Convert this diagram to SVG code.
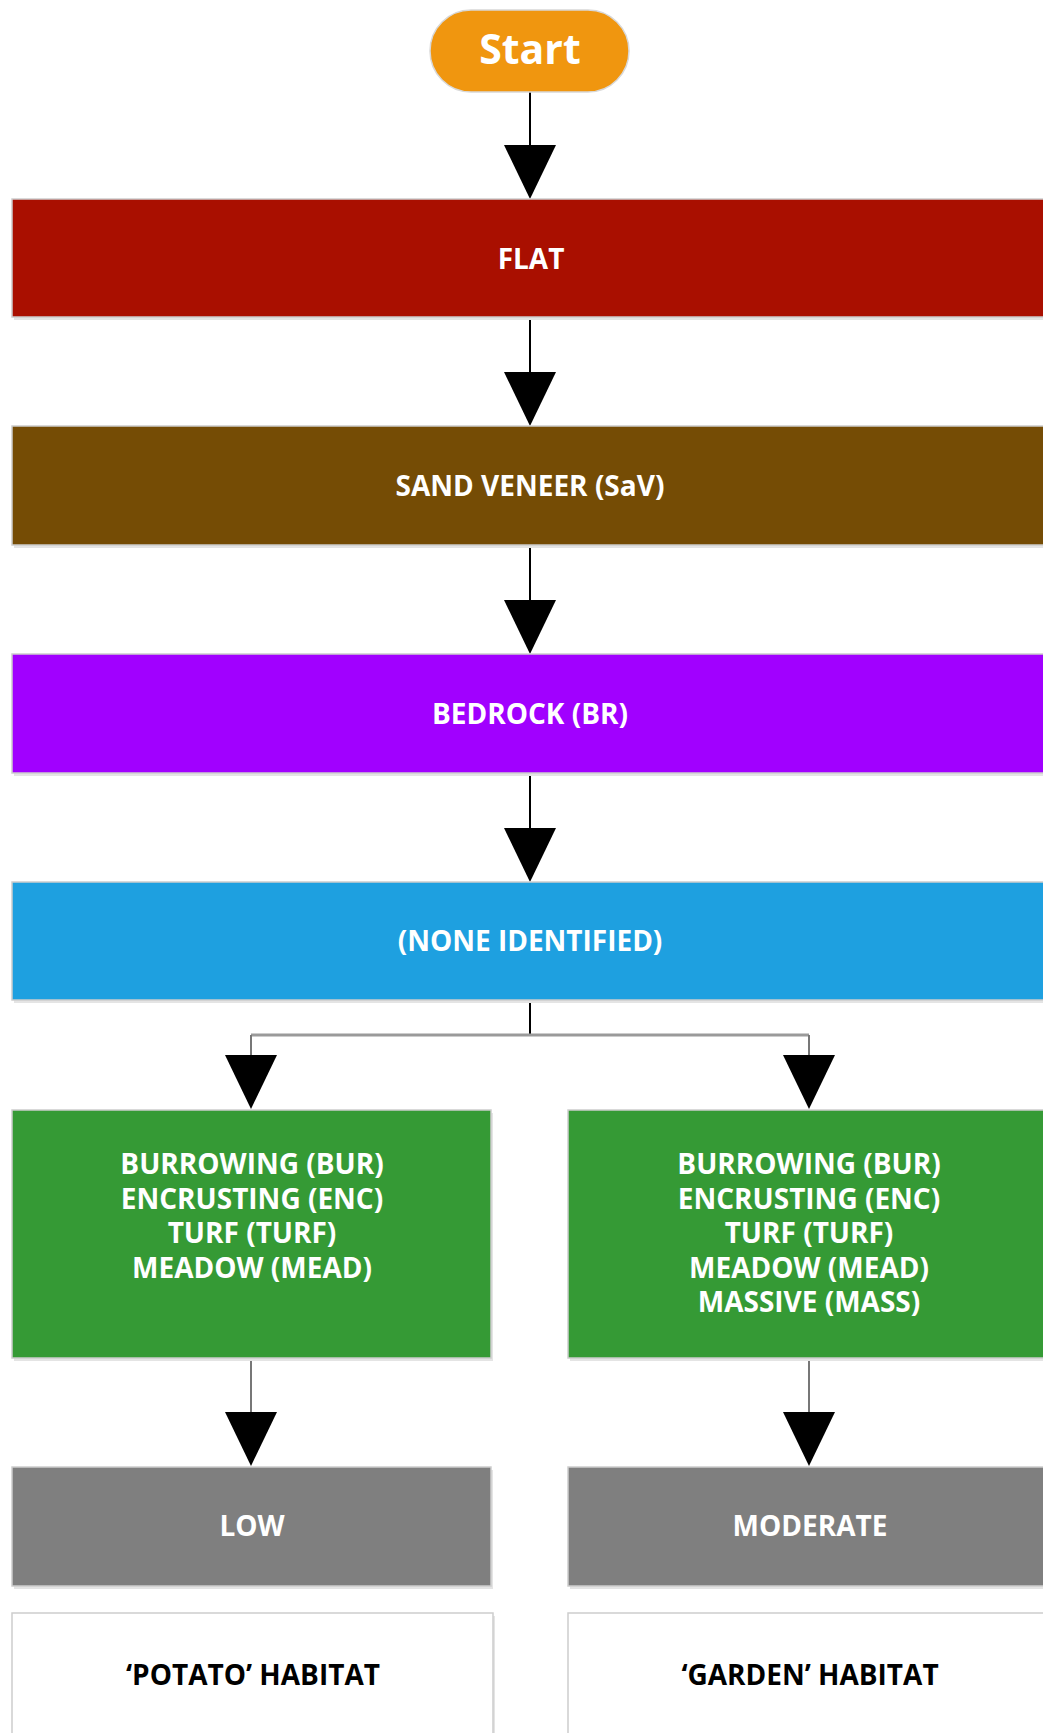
<svg xmlns="http://www.w3.org/2000/svg" width="1043" height="1733" viewBox="0 0 1043 1733">
<style>
.box{stroke:#cdcdcd;stroke-width:1.5}
.sh{fill:#e4e4e4}
.t{font-family:"Open Sans","DejaVu Sans",sans-serif;font-weight:700;font-size:28px;fill:#ffffff;text-anchor:middle}
.tb{fill:#000000}
.ln{fill:none;stroke:#000;stroke-width:2}
.lg{fill:none;stroke:#777;stroke-width:2}
</style>
<defs>
<polygon id="ah" points="-26,0 26,0 0,54" fill="#000"/>
</defs>
<rect width="1043" height="1733" fill="#ffffff"/>

<g id="connectors">
<line class="ln" x1="530" y1="92" x2="530" y2="146"/>
<use href="#ah" x="530" y="145"/>
<line class="ln" x1="530" y1="318" x2="530" y2="373"/>
<use href="#ah" x="530" y="372"/>
<line class="ln" x1="530" y1="546" x2="530" y2="601"/>
<use href="#ah" x="530" y="600"/>
<line class="ln" x1="530" y1="774" x2="530" y2="829"/>
<use href="#ah" x="530" y="828"/>
<line class="ln" x1="530" y1="1001" x2="530" y2="1035"/>
<line x1="251" y1="1035" x2="809" y2="1035" stroke="#9a9a9a" stroke-width="3"/>
<line class="lg" x1="251" y1="1035" x2="251" y2="1056"/>
<line class="lg" x1="809" y1="1035" x2="809" y2="1056"/>
<use href="#ah" x="251" y="1055"/>
<use href="#ah" x="809" y="1055"/>
<line class="lg" x1="251" y1="1359" x2="251" y2="1413"/>
<line class="lg" x1="809" y1="1359" x2="809" y2="1413"/>
<use href="#ah" x="251" y="1412"/>
<use href="#ah" x="809" y="1412"/>
</g>

<g id="start">
<rect x="430" y="10" width="199" height="82" rx="41" fill="#f0960f" stroke="#d8d8d8" stroke-width="1.5"/>
<text class="t" x="530" y="64" style="font-size:41px">Start</text>
</g>

<g id="flat">
<rect class="sh" x="14" y="202" width="1040" height="118"/>
<rect class="box" x="12" y="199" width="1040" height="118" fill="#a90f00"/>
<text class="t" x="531" y="269">FLAT</text>
</g>

<g id="sand-veneer">
<rect class="sh" x="14" y="429" width="1040" height="119"/>
<rect class="box" x="12" y="426" width="1040" height="119" fill="#754c05"/>
<text class="t" x="530" y="496">SAND VENEER (SaV)</text>
</g>

<g id="bedrock">
<rect class="sh" x="14" y="657" width="1040" height="119"/>
<rect class="box" x="12" y="654" width="1040" height="119" fill="#a100ff"/>
<text class="t" x="530" y="724">BEDROCK (BR)</text>
</g>

<g id="none-identified">
<rect class="sh" x="14" y="885" width="1040" height="118"/>
<rect class="box" x="12" y="882" width="1040" height="118" fill="#1ea0e0"/>
<text class="t" x="530" y="951">(NONE IDENTIFIED)</text>
</g>

<g id="growth-left">
<rect class="sh" x="14" y="1113" width="479" height="248"/>
<rect class="box" x="12" y="1110" width="479" height="248" fill="#359a35"/>
<text class="t" x="252" y="1174">BURROWING (BUR)</text>
<text class="t" x="252" y="1208.5">ENCRUSTING (ENC)</text>
<text class="t" x="252" y="1243">TURF (TURF)</text>
<text class="t" x="252" y="1277.5">MEADOW (MEAD)</text>
</g>

<g id="growth-right">
<rect class="sh" x="570" y="1113" width="479" height="248"/>
<rect class="box" x="568" y="1110" width="479" height="248" fill="#359a35"/>
<text class="t" x="809" y="1174">BURROWING (BUR)</text>
<text class="t" x="809" y="1208.5">ENCRUSTING (ENC)</text>
<text class="t" x="809" y="1243">TURF (TURF)</text>
<text class="t" x="809" y="1277.5">MEADOW (MEAD)</text>
<text class="t" x="809" y="1312">MASSIVE (MASS)</text>
</g>

<g id="low">
<rect class="sh" x="14" y="1470" width="479" height="119"/>
<rect class="box" x="12" y="1467" width="479" height="119" fill="#7f7f7f"/>
<text class="t" x="252" y="1536">LOW</text>
</g>

<g id="moderate">
<rect class="sh" x="570" y="1470" width="479" height="119"/>
<rect class="box" x="568" y="1467" width="479" height="119" fill="#7f7f7f"/>
<text class="t" x="810" y="1536">MODERATE</text>
</g>

<g id="potato-habitat">
<rect class="sh" x="14" y="1616" width="481" height="130"/>
<rect class="box" x="12" y="1613" width="481" height="130" fill="#ffffff"/>
<text class="t tb" x="253" y="1685">‘POTATO’ HABITAT</text>
</g>

<g id="garden-habitat">
<rect class="sh" x="570" y="1616" width="481" height="130"/>
<rect class="box" x="568" y="1613" width="481" height="130" fill="#ffffff"/>
<text class="t tb" x="810" y="1685">‘GARDEN’ HABITAT</text>
</g>
</svg>
